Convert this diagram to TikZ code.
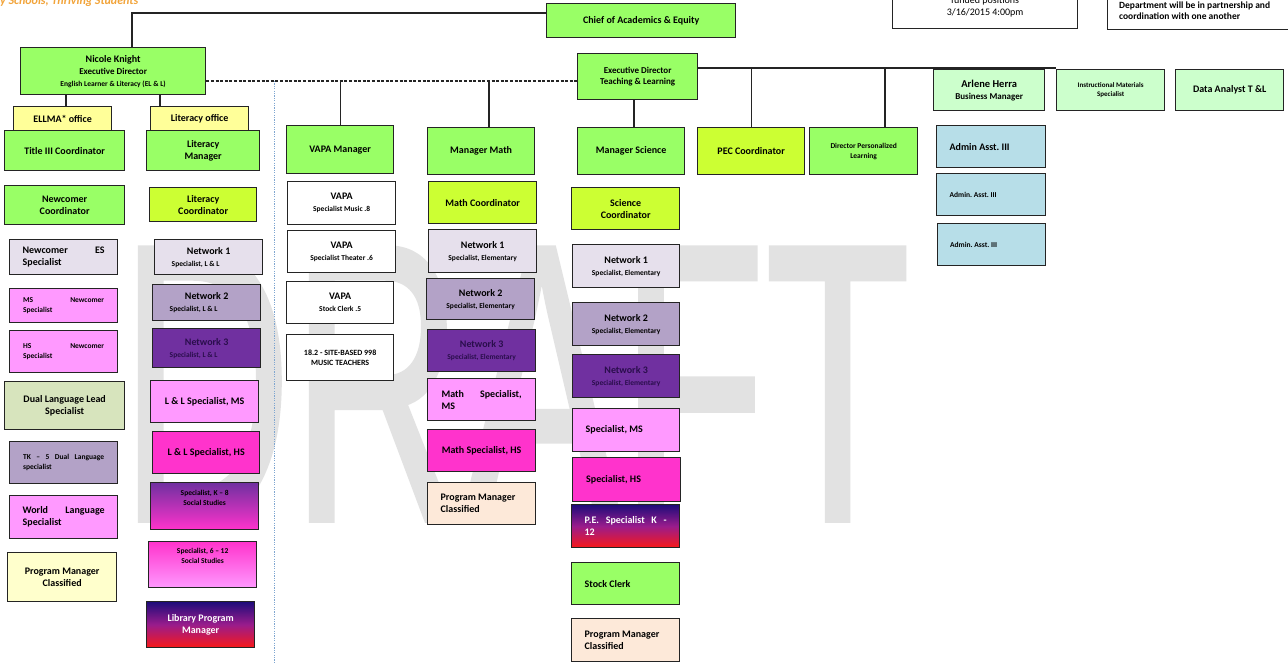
\documentclass[tikz,border=0pt]{standalone}
\usepackage{fontspec}
\setmainfont{Carlito}
\newfontfamily\wmfont[FakeBold=1.5]{Liberation Sans}
\usepackage{graphicx}
\usetikzlibrary{shadings}
\frenchspacing
\definecolor{cgreen}{HTML}{99FF66}
\definecolor{cyg}{HTML}{CCFF33}
\definecolor{coffice}{HTML}{FFFF99}
\definecolor{clav}{HTML}{E6E0EC}
\definecolor{cp2}{HTML}{B3A2C7}
\definecolor{cp3}{HTML}{7030A0}
\definecolor{cpink}{HTML}{FF99FF}
\definecolor{cmag}{HTML}{FF33CC}
\definecolor{colive}{HTML}{D7E4BD}
\definecolor{cpmy}{HTML}{FFFFCC}
\definecolor{cpeach}{HTML}{FDE9D9}
\definecolor{clg}{HTML}{CCFFCC}
\definecolor{clb}{HTML}{B7DEE8}
\definecolor{cnavy}{HTML}{1E0C7A}
\definecolor{cgmid}{HTML}{9A1C8C}
\definecolor{cred}{HTML}{F81818}
\definecolor{cline}{HTML}{242424}
\definecolor{cbdot}{HTML}{7FA6D0}
\definecolor{cwm}{HTML}{E2E2E2}
\definecolor{ct3}{HTML}{2A0E4C}
\definecolor{corange}{HTML}{F2A43A}
\newcommand\fA{\fontsize{10}{12}\selectfont\bfseries}
\newcommand\fC{\fontsize{9}{11}\selectfont\bfseries}
\newcommand\fB{\fontsize{7.5}{10}\selectfont\bfseries}
\newcommand\fD{\fontsize{8}{10.5}\selectfont\bfseries}
\newcommand\ob[7]{\node[ob,#1,anchor=north west,minimum width={(#5-#3)*1pt},minimum height={(#6-#4)*1pt}] (#2) at (#3,#4) {#7};}
\tikzset{
 ob/.style={draw=cline, line width=1.3pt, inner sep=2pt, align=center, font=\fA, text=black},
 lb/.style={align=flush left, text width=#1},
 conn/.style={draw=cline, line width=1.3pt},
 dconn/.style={draw=cline, line width=1.3pt, dash pattern=on 3pt off 1.6pt},
 bdot/.style={draw=cbdot, line width=0.9pt, dash pattern=on 1.2pt off 1.2pt},
 fgreen/.style={fill=cgreen},
 fyg/.style={fill=cyg},
 foffice/.style={fill=coffice},
 flav/.style={fill=clav},
 fp2/.style={fill=cp2},
 fp3/.style={fill=cp3, text=ct3},
 fpink/.style={fill=cpink},
 fmag/.style={fill=cmag},
 folive/.style={fill=colive},
 fpmy/.style={fill=cpmy},
 fpeach/.style={fill=cpeach},
 flg/.style={fill=clg},
 flb/.style={fill=clb},
 fwhite/.style={fill=white},
 fgrad/.style={top color=cnavy, bottom color=cred, middle color=cgmid, text=white},
}
\begin{document}
\begin{tikzpicture}[x=1pt,y=-1pt]
\useasboundingbox (0,0) rectangle (1288,662);
\fill[white] (0,0) rectangle (1288,662);
\clip (0,0) rectangle (1288,662);
% watermark
\node[anchor=base west, inner sep=0pt, text=cwm] (wm) at (120,520) {\scalebox{0.6}[1]{\wmfont\fontsize{395}{400}\selectfont DRAFT}};
% slogan
\node[anchor=base west, inner sep=0pt, text=corange, font=\fontsize{12}{14}\selectfont\bfseries\itshape] (slogan) at (0,4) {y Schools, Thriving Students};
% top
\ob{fgreen}{chief}{546}{3}{735}{37}{Chief of Academics \& Equity}
\ob{fgreen}{nicole}{20}{47}{205}{94}{Nicole Knight\\{\fC Executive Director}\\{\fB English Learner \& Literacy (EL \& L)}}
\ob{fgreen,font=\fC}{etl}{577}{53}{697}{99}{Executive Director\\Teaching \& Learning}
% left column
\ob{foffice}{ellma}{13}{106}{111}{131}{ELLMA* office}
\ob{foffice}{litoff}{150}{106}{248}{130}{Literacy office}
\ob{fgreen}{title}{4}{130}{124}{170}{Title III Coordinator}
\ob{fgreen}{litman}{146}{130}{259}{170}{Literacy\\Manager}
\ob{fgreen}{newcoord}{4}{185}{124}{224}{Newcomer\\Coordinator}
\ob{fyg}{litcoord}{149}{187}{256}{221}{Literacy\\Coordinator}
\ob{flav,lb=82pt}{newes}{9}{239}{117}{274}{Newcomer\hfill ES\\Specialist}
\ob{fpink,lb=81pt,font=\fB}{msnew}{9}{288}{117}{322}{MS\hfill Newcomer\\Specialist}
\ob{fpink,lb=81pt,font=\fB}{hsnew}{9}{330}{117}{372}{HS\hfill Newcomer\\Specialist}
\ob{folive}{dual}{4}{381}{124}{429}{Dual Language Lead\\Specialist}
\ob{fp2,lb=81pt,font=\fB}{tk}{9}{441}{117}{483}{TK \hfill -- \hfill 5 \hfill Dual \hfill Language\\specialist}
\ob{fpink,lb=82pt}{world}{9}{495}{117}{538}{World\hfill Language\\Specialist}
\ob{fpmy}{pmleft}{7}{552}{116}{601}{Program Manager\\Classified}
% literacy column
\ob{flav}{ln1}{154}{239}{262}{274}{Network 1\\{\fB Specialist, L \& L}\hspace*{26pt}}
\ob{fp2}{ln2}{152}{284}{260}{320}{Network 2\\{\fB Specialist, L \& L}\hspace*{26pt}}
\ob{fp3}{ln3}{152}{328}{260}{367}{Network 3\\{\fB Specialist, L \& L}\hspace*{26pt}}
\ob{fpink}{llms}{150}{380}{258}{422}{L \& L Specialist, MS}
\ob{fmag}{llhs}{152}{431}{259}{473}{L \& L Specialist, HS}
\ob{top color=cp3,bottom color=cmag,font=\fB}{k8}{150}{482}{258}{529}{Specialist, K -- 8\\Social Studies\\[7pt]}
\ob{top color=cmag,bottom color=cpink,font=\fB}{s612}{148}{541}{256}{587}{Specialist, 6 -- 12\\Social Studies\\[7pt]}
\ob{fgrad}{lib}{146}{601}{254}{647}{Library Program\\Manager}
% VAPA column
\ob{fgreen}{vapa}{286}{125}{393}{173}{VAPA Manager}
\ob{fwhite}{vm}{287}{181}{395}{224}{VAPA\\{\fB Specialist Music .8}}
\ob{fwhite}{vt}{287}{230}{395}{272}{VAPA\\{\fB Specialist Theater .6}}
\ob{fwhite}{vs}{286}{281}{393}{323}{VAPA\\{\fB Stock Clerk .5}}
\ob{fwhite,font=\fD}{mt}{286}{334}{393}{380}{18.2 - SITE-BASED 998\\MUSIC TEACHERS}
% math column
\ob{fgreen}{mm}{427}{127}{534}{174}{Manager Math}
\ob{fyg}{mc}{428}{181}{536}{223}{Math Coordinator}
\ob{flav}{mn1}{428}{229}{536}{272}{Network 1\\{\fB Specialist, Elementary}}
\ob{fp2}{mn2}{426}{278}{534}{319}{Network 2\\{\fB Specialist, Elementary}}
\ob{fp3}{mn3}{427}{329}{535}{371}{Network 3\\{\fB Specialist, Elementary}}
\ob{fpink,lb=80pt}{mms}{427}{378}{535}{420}{Math\hfill Specialist,\\MS}
\ob{fmag}{mhs}{427}{429}{535}{471}{Math Specialist, HS}
\ob{fpeach,lb=82pt}{pmmath}{427}{482}{535}{524}{Program Manager\\Classified}
% science column
\ob{fgreen}{ms}{577}{127}{684}{174}{Manager Science}
\ob{fyg}{pec}{697}{127}{804}{174}{PEC Coordinator}
\ob{fgreen,font=\fB}{dpl}{809}{127}{917}{174}{Director Personalized\\Learning}
\ob{fyg}{sc}{571}{187}{679}{229}{Science\\Coordinator}
\ob{flav}{sn1}{572}{244}{679}{287}{Network 1\\{\fB Specialist, Elementary}}
\ob{fp2}{sn2}{572}{302}{679}{345}{Network 2\\{\fB Specialist, Elementary}}
\ob{fp3}{sn3}{572}{354}{679}{397}{Network 3\\{\fB Specialist, Elementary}}
\ob{fpink,lb=81pt}{sms}{572}{408}{679}{451}{Specialist, MS}
\ob{fmag,lb=81pt}{shs}{572}{457}{680}{501}{Specialist, HS}
\ob{fgrad,lb=82pt}{pe}{571}{504}{679}{547}{P.E.\hfill Specialist\hfill K\hfill -\\12}
\ob{fgreen,lb=82pt}{stock}{571}{562}{679}{604}{Stock Clerk}
\ob{fpeach,lb=82pt}{pmsci}{571}{618}{679}{661}{Program Manager\\Classified}
% right side
\ob{flg}{arl}{933}{69}{1044}{110}{{\fontsize{10.5}{12}\selectfont Arlene Herra}\\{\fC Business Manager}}
\ob{flg,font=\fontsize{7}{9}\selectfont\bfseries}{ims}{1056}{69}{1164}{110}{Instructional Materials\\Specialist}
\ob{flg}{da}{1175}{69}{1283}{110}{Data Analyst T \&L}
\ob{flb,lb=83pt}{ad1}{936}{125}{1045}{167}{Admin Asst. III}
\ob{flb,lb=83pt,font=\fB}{ad2}{936}{173}{1045}{215}{Admin. Asst. III}
\ob{flb,lb=83pt,font=\fB}{ad3}{937}{223}{1045}{265}{Admin. Asst. III}
% top right notes
\ob{fwhite,font=\fontsize{10}{12}\selectfont}{note1}{892}{-15}{1077}{28}{funded positions\\3/16/2015 4:00pm}
\ob{fwhite,lb=170pt,font=\fontsize{9.5}{11}\selectfont\bfseries}{note2}{1107}{-9}{1300}{29}{Department will be in partnership and\\coordination with one another}
% helper coordinates
\coordinate (j1) at (132,13);
\coordinate (dd) at (0,81);
\coordinate (bt) at (274,81);
\coordinate (bb) at (274,662);
\coordinate (mx) at (489,0);
\coordinate (sx) at (634,0);
\coordinate (rb) at (0,68);
\coordinate (dx) at (885,0);
\coordinate (ex) at (66,0);
\coordinate (lx) at (160,0);
% connectors
\draw[conn] (chief.west |- j1) -- (j1) -- (j1 |- nicole.north);
\draw[dconn] (nicole.east |- dd) -- (etl.west |- dd);
\draw[bdot] (bt) -- (bb);
\draw[conn] (vapa.north) -- (vapa.north |- dd);
\draw[conn] (mx |- mm.north) -- (mx |- dd);
\draw[conn] (sx |- etl.south) -- (sx |- ms.north);
\draw[conn] (etl.east |- rb) -- (ims.north west |- rb);
\draw[conn] (pec.north) -- (pec.north |- rb);
\draw[conn] (dx |- dpl.north) -- (dx |- rb);
\draw[conn] (ex |- nicole.south) -- (ex |- ellma.north);
\draw[conn] (lx |- nicole.south) -- (lx |- litoff.north);
\end{tikzpicture}
\end{document}
